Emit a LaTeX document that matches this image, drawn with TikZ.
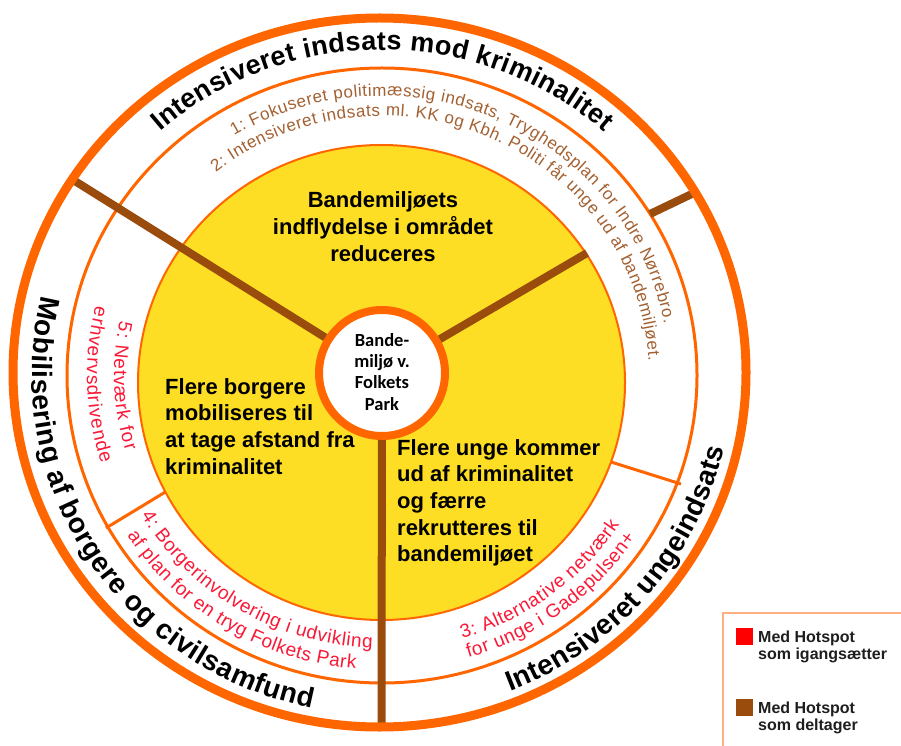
\documentclass[tikz,border=0pt]{standalone}
\usepackage{fontspec}
\setmainfont{Liberation Sans}
\newfontfamily\carlfont{Carlito}
\usetikzlibrary{decorations.text,calc}
\definecolor{ora}{RGB}{255,102,0}
\definecolor{yel}{RGB}{253,222,36}
\definecolor{spk}{RGB}{153,76,12}
\definecolor{btx}{RGB}{163,97,50}
\definecolor{rtx}{RGB}{250,25,55}
\definecolor{lgb}{RGB}{255,175,130}
\definecolor{dk}{RGB}{30,30,30}
\newcommand\otxt{\fontsize{28}{30}\selectfont\bfseries}
\newcommand\ttxt{\fontsize{27}{30}\selectfont\bfseries}
\newcommand\btxt{\fontsize{17}{20}\selectfont\color{btx}}
\newcommand\rtxt{\fontsize{19}{22}\selectfont\color{rtx}}
\newcommand\ytxt{\fontsize{22}{26.7}\selectfont\bfseries}
\newcommand\ctxt{\carlfont\fontsize{18.5}{21.5}\selectfont\bfseries}
\newcommand\ltxt{\fontsize{16}{17}\selectfont\bfseries\color{dk}}
\tikzset{
  curv/.style={decorate, decoration={text along path, text align=fit to path, text={#1}}},
  spoke/.style={draw=spk, line width=8},
  divider/.style={draw=ora, line width=3},
  ytext/.style={inner sep=0, font=\ytxt},
}
\begin{document}
\begin{tikzpicture}[x=1pt,y=1pt]
\useasboundingbox (0,0) rectangle (901,745);
\fill[white] (0,0) rectangle (901,745);
\coordinate (T) at (382,370);
% dividers in inner band
\coordinate (dl1) at (106,217); \coordinate (dl2) at (167,254);
\coordinate (dr1) at (611,283); \coordinate (dr2) at (681,261);
\draw[divider] (dl1) -- (dl2);
\draw[divider] (dr1) -- (dr2);
% yellow disk
\draw[fill=yel, draw=ora, line width=2] (381.5,362.5) ellipse [x radius=243.5, y radius=237.5];
% thin ring
\draw[draw=ora, line width=3] (382,369.5) ellipse [x radius=315, y radius=307.5];
% center node
\node[circle, draw=ora, line width=8, fill=white, minimum size=126, inner sep=0] (cc) at (382,372) {};
% spokes
\coordinate (ulo) at (70,567);
\coordinate (ur1) at (587,492);
\coordinate (ur2) at (650,531);
\coordinate (ur3) at (697,553.5);
\coordinate (bo) at (381.5,15);
\draw[spoke] (cc) -- (ulo);
\draw[spoke] (cc) -- (ur1);
\draw[spoke] (ur2) -- (ur3);
\draw[spoke] (cc) -- (bo);
% thick ring
\draw[draw=ora, line width=9] (379.5,372.5) ellipse [x radius=366.5, y radius=354.5];
% center text
\node[inner sep=0, font=\ctxt, anchor=base] (cct) at (382,399) {\begin{tabular}[t]{@{}c@{}}Bande-\\miljø v.\\Folkets\\Park\end{tabular}};
% yellow texts
\node[ytext, anchor=base] (ytop) at (383,537) {\begin{tabular}[t]{@{}c@{}}Bandemiljøets\\indflydelse i området\\reduceres\end{tabular}};
\node[ytext, anchor=base west] (yleft) at (165,351) {\begin{tabular}[t]{@{}l@{}}Flere borgere\\mobiliseres til\\at tage afstand fra\\kriminalitet\end{tabular}};
\node[ytext, anchor=base west] (yright) at (397,290) {\begin{tabular}[t]{@{}l@{}}Flere unge kommer\\ud af kriminalitet\\og færre\\rekrutteres til\\bandemiljøet\end{tabular}};
% outer curved texts
\path[curv={|\ttxt|Intensiveret indsats mod kriminalitet}] ($(T)+(131.5:335 and 325)$) arc[start angle=131.5, end angle=48.5, x radius=335, y radius=325];
\path[curv={|\otxt|Mobilisering af borgere og civilsamfund}] ($(T)+(166.5:350 and 340)$) arc[start angle=166.5, end angle=258.5, x radius=350, y radius=340];
\path[curv={|\otxt|Intensiveret ungeindsats}] ($(T)+(-68.5:350 and 340)$) arc[start angle=-68.5, end angle=-12.5, x radius=350, y radius=340];
% brown inner texts
\path[curv={|\btxt|1: Fokuseret politimæssig indsats, Tryghedsplan for Indre Nørrebro.}] ($(T)+(121:287 and 279)$) arc[start angle=121, end angle=10.5, x radius=287, y radius=279];
\path[curv={|\btxt|2: Intensiveret indsats ml. KK og Kbh. Politi får unge ud af bandemiljøet.}] ($(T)+(128.5:267 and 259)$) arc[start angle=128.5, end angle=3, x radius=267, y radius=259];
% red inner texts
\path[curv={|\rtxt|5: Netværk for}] ($(T)+(168:268 and 260)$) arc[start angle=168, end angle=197, x radius=268, y radius=260];
\path[curv={|\rtxt|erhvervsdrivende}] ($(T)+(166:295 and 286)$) arc[start angle=166, end angle=198, x radius=295, y radius=286];
\path[curv={|\rtxt|4: Borgerinvolvering i udvikling}] ($(T)+(211:281 and 273)$) arc[start angle=211, end angle=268, x radius=281, y radius=273];
\path[curv={|\rtxt|af plan for en tryg Folkets Park}] ($(T)+(213:304 and 295)$) arc[start angle=213, end angle=265, x radius=304, y radius=295];
\path[curv={|\rtxt|3: Alternative netværk}] ($(T)+(-73.5:283 and 275)$) arc[start angle=-73.5, end angle=-33, x radius=283, y radius=275];
\path[curv={|\rtxt|for unge i Gadepulsen+}] ($(T)+(-73.5:304 and 295)$) arc[start angle=-73.5, end angle=-33.5, x radius=304, y radius=295];
% legend
\draw[draw=lgb, line width=2, fill=white] (723,-10) rectangle (915,132);
\node[fill=red, minimum size=17, inner sep=0, anchor=north west] (lr) at (736,117) {};
\node[fill=spk, minimum size=17, inner sep=0, anchor=north west] (lb) at (736,46) {};
\node[inner sep=0, font=\ltxt, anchor=base west] (lrt) at (758,103) {\begin{tabular}[t]{@{}l@{}}Med Hotspot\\som igangsætter\end{tabular}};
\node[inner sep=0, font=\ltxt, anchor=base west] (lbt) at (758,32) {\begin{tabular}[t]{@{}l@{}}Med Hotspot\\som deltager\end{tabular}};
\end{tikzpicture}
\end{document}
